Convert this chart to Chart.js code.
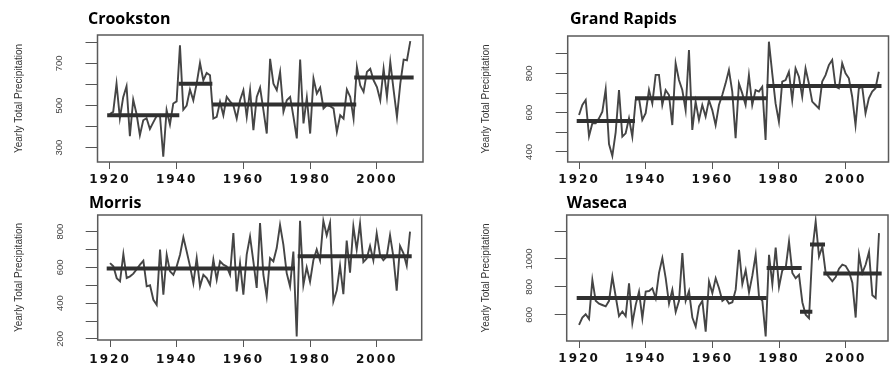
<!DOCTYPE html>
<html><head><meta charset="utf-8">
<script src="https://cdn.jsdelivr.net/npm/chart.js@4.4.0/dist/chart.umd.min.js"></script>
<style>
html,body{margin:0;padding:0;background:#fff;width:890px;height:365px;overflow:hidden;position:relative}
canvas{position:absolute}
</style></head><body>
<canvas id="c1"></canvas><canvas id="c2"></canvas><canvas id="c3"></canvas><canvas id="c4"></canvas>
<script>
const years = [1920,1921,1922,1923,1924,1925,1926,1927,1928,1929,
1930,1931,1932,1933,1934,1935,1936,1937,1938,1939,
1940,1941,1942,1943,1944,1945,1946,1947,1948,1949,
1950,1951,1952,1953,1954,1955,1956,1957,1958,1959,
1960,1961,1962,1963,1964,1965,1966,1967,1968,1969,
1970,1971,1972,1973,1974,1975,1976,1977,1978,1979,
1980,1981,1982,1983,1984,1985,1986,1987,1988,1989,
1990,1991,1992,1993,1994,1995,1996,1997,1998,1999,
2000,2001,2002,2003,2004,2005,2006,2007,2008,2009,2010];

const crookston = [460,470,604,440,540,592,355,528,460,359,
430,440,389,420,450,455,257,478,410,510,
520,786,480,500,576,525,604,702,620,655,
644,438,446,517,454,541,520,500,438,525,
573,446,573,383,541,585,478,367,722,604,
573,660,470,525,541,446,344,718,415,538,
367,628,557,585,486,502,497,486,375,454,
438,576,541,438,683,596,565,660,675,620,
588,525,675,541,707,573,446,604,718,715,806];

const grandRapids = [588,639,664,480,546,546,571,605,719,440,
380,500,715,478,495,571,478,664,673,563,
597,715,647,792,792,639,715,690,537,851,
766,715,613,919,512,656,563,639,580,664,
613,537,639,690,749,817,707,470,749,698,
639,791,639,715,707,732,461,961,800,647,
554,758,766,808,664,825,783,681,825,749,
656,639,622,758,791,842,868,732,724,851,
800,775,681,537,724,732,597,673,707,724,808];

const morris = [624,606,540,522,674,540,550,565,590,615,
637,494,500,419,391,700,447,671,578,559,
606,671,768,689,606,512,652,494,559,540,
503,643,531,634,615,606,559,792,466,624,
447,671,773,634,485,848,559,438,652,634,
708,838,727,568,494,689,214,860,500,600,
520,640,700,640,860,780,850,410,470,610,
450,750,570,830,700,845,630,650,720,640,
790,670,640,660,780,660,470,720,680,610,800];

const waseca = [527,580,604,570,850,700,680,670,660,700,
874,731,590,623,590,826,540,671,766,575,
766,770,790,718,900,1006,862,680,780,620,
700,1042,700,770,580,515,660,700,479,838,
755,862,790,700,719,680,690,780,1065,820,
920,760,880,1030,730,700,444,1030,820,1082,
800,920,934,1125,900,862,886,690,600,575,
1060,1269,1018,1089,900,870,840,870,930,960,
950,910,830,580,1030,900,960,1050,740,720,1185];

// segment means (start year, end year, mean)
const crookSegStart = [1919.2, 1940.6, 1950.7, 1993.2];
const crookSegEnd   = [1940.8, 1950.7, 1993.8, 2011.0];
const crookSegMean  = [454, 604, 505, 633];

const grSegStart = [1919.3, 1936.8, 1976.3];
const grSegEnd   = [1936.8, 1976.3, 2010.8];
const grSegMean  = [558, 673, 736];

const morSegStart = [1919.0, 1976.3];
const morSegEnd   = [1975.5, 2010.5];
const morSegMean  = [594, 663];

const wasSegStart = [1919.3, 1976.3, 1986.3, 1989.3, 1993.3];
const wasSegEnd   = [1976.3, 1986.8, 1990.0, 1993.8, 2010.8];
const wasSegMean  = [721, 936, 621, 1104, 896];

const xTicks = [1920, 1940, 1960, 1980, 2000];
const crookYTicks = [300, 400, 500, 600, 700, 800];
const crookYLabels = [300, 500, 700];
const grYTicks = [400, 500, 600, 700, 800, 900];
const grYLabels = [400, 600, 800];
const morYTicks = [200, 300, 400, 500, 600, 700, 800];
const morYLabels = [200, 400, 600, 800];
const wasYTicks = [600, 800, 1000, 1200];
const wasYLabels = [600, 800, 1000];

const LINE = '#454545', MEAN = '#303030', AXIS = '#555555';
const YFONT = {family: "'Liberation Sans', Arial", size: 9.5};
const YTFONT = {family: "'Liberation Sans', Arial", size: 10};
const XFONT = {family: "'DejaVu Sans'", weight: 'bold', size: 12};

const mctx = document.createElement('canvas').getContext('2d');
function textW(font, s) { mctx.font = font.size + 'px ' + font.family; return mctx.measureText(s).width; }

const decor = {
  id: 'decor',
  beforeDraw(chart) { chart.ctx.letterSpacing = '0px'; },
  afterDatasetsDraw(chart) { chart.ctx.letterSpacing = '2px'; },
  afterDraw(chart, args, o) {
    const ctx = chart.ctx, a = chart.chartArea;
    ctx.letterSpacing = '0px';
    ctx.save();
    ctx.strokeStyle = '#5a5a5a'; ctx.lineWidth = 1.5;
    ctx.strokeRect(a.left, a.top, a.right - a.left, a.bottom - a.top);
    ctx.fillStyle = '#000';
    ctx.font = "700 16px 'Open Sans', 'DejaVu Sans', sans-serif";
    ctx.textBaseline = 'alphabetic'; ctx.textAlign = 'left';
    ctx.fillText(o.text, o.x, o.y);
    ctx.restore();
  }
};

function makeChart(id, p) {
  const cv = document.getElementById(id);
  cv.width = p.w; cv.height = p.h;
  cv.style.left = p.cx + 'px'; cv.style.top = p.cy + 'px';
  cv.style.width = p.w + 'px'; cv.style.height = p.h + 'px';
  const datasets = [{
    data: years.map((yr, i) => ({x: yr, y: p.values[i]})),
    borderColor: LINE, borderWidth: 1.9, pointRadius: 0, tension: 0, order: 1
  }];
  p.segStart.forEach((s, i) => datasets.push({
    data: [{x: s, y: p.segMean[i]}, {x: p.segEnd[i], y: p.segMean[i]}],
    borderColor: MEAN, borderWidth: 4, pointRadius: 0, order: 0
  }));
  const widest = Math.max(...p.yLabels.map(v => textW(YFONT, String(v))));
  const yTL = 12;
  new Chart(cv, {
    type: 'line',
    data: { datasets },
    plugins: [decor],
    options: {
      responsive: false, animation: false, devicePixelRatio: 1,
      layout: { padding: { left: 0, top: p.areaT - p.cy, right: p.cx + p.w - p.areaR, bottom: 0 } },
      plugins: { legend: {display: false}, tooltip: {enabled: false}, title: {display: false},
        decor: { text: p.title, x: p.tx, y: p.ty } },
      scales: {
        x: {
          type: 'linear', min: p.xMin, max: p.xMax,
          afterBuildTicks: s => { s.ticks = xTicks.map(v => ({value: v})); },
          afterFit: s => { s.height = p.cy + p.h - p.areaB; },
          grid: { drawOnChartArea: false, drawTicks: true, tickLength: 7, tickColor: AXIS, lineWidth: 1 },
          border: { display: false },
          ticks: { autoSkip: false, minRotation: 0, maxRotation: 0, padding: p.xPad, z: 1,
            font: XFONT, color: '#111', callback: v => String(v) }
        },
        y: {
          type: 'linear', min: p.yMin, max: p.yMax,
          afterBuildTicks: s => { s.ticks = p.yTicks.map(v => ({value: v})); },
          afterFit: s => { s.width = p.areaL - p.cx; },
          grid: { drawOnChartArea: false, drawTicks: true, tickLength: yTL, tickColor: AXIS, lineWidth: 1 },
          border: { display: false },
          ticks: { autoSkip: false, minRotation: 90, maxRotation: 90, crossAlign: 'center',
            padding: p.yDist - yTL - widest / 2, font: YFONT, color: '#444',
            callback: v => p.yLabels.includes(v) ? String(v) : '' },
          title: { display: true, text: 'Yearly Total Precipitation', font: YTFONT, color: '#333',
            padding: { top: p.yTitleCenter - YTFONT.size * 0.6, bottom: 0 } }
        }
      }
    }
  });
}

makeChart('c1', { title: 'Crookston', tx: 88, ty: 24, values: crookston,
  segStart: crookSegStart, segEnd: crookSegEnd, segMean: crookSegMean,
  yTicks: crookYTicks, yLabels: crookYLabels,
  cx: 0, cy: 0, w: 445, h: 188, areaL: 97.5, areaR: 423, areaT: 35, areaB: 162,
  xMin: 1916.3, xMax: 2013.8, yMin: 232, yMax: 835, yTitleCenter: 19.2, yDist: 38, xPad: 3.6 });

makeChart('c2', { title: 'Grand Rapids', tx: 125, ty: 24, values: grandRapids,
  segStart: grSegStart, segEnd: grSegEnd, segMean: grSegMean,
  yTicks: grYTicks, yLabels: grYLabels,
  cx: 445, cy: 0, w: 445, h: 188, areaL: 567.7, areaR: 888.5, areaT: 36, areaB: 162,
  xMin: 1916.6, xMax: 2012.9, yMin: 349, yMax: 990, yTitleCenter: 40.8, yDist: 38.7, xPad: 3.6 });

makeChart('c3', { title: 'Morris', tx: 89, ty: 28, values: morris,
  segStart: morSegStart, segEnd: morSegEnd, segMean: morSegMean,
  yTicks: morYTicks, yLabels: morYLabels,
  cx: 0, cy: 180, w: 445, h: 185, areaL: 97.7, areaR: 421.7, areaT: 215, areaB: 340,
  xMin: 1916.3, xMax: 2013.5, yMin: 194, yMax: 893, yTitleCenter: 19.2, yDist: 37.7, xPad: 5.3 });

makeChart('c4', { title: 'Waseca', tx: 121.7, ty: 28, values: waseca,
  segStart: wasSegStart, segEnd: wasSegEnd, segMean: wasSegMean,
  yTicks: wasYTicks, yLabels: wasYLabels,
  cx: 445, cy: 180, w: 445, h: 185, areaL: 566.7, areaR: 888, areaT: 215, areaB: 341,
  xMin: 1916.3, xMax: 2012.7, yMin: 412, yMax: 1315, yTitleCenter: 40.8, yDist: 37.7, xPad: 4 });
</script>
</body></html>
